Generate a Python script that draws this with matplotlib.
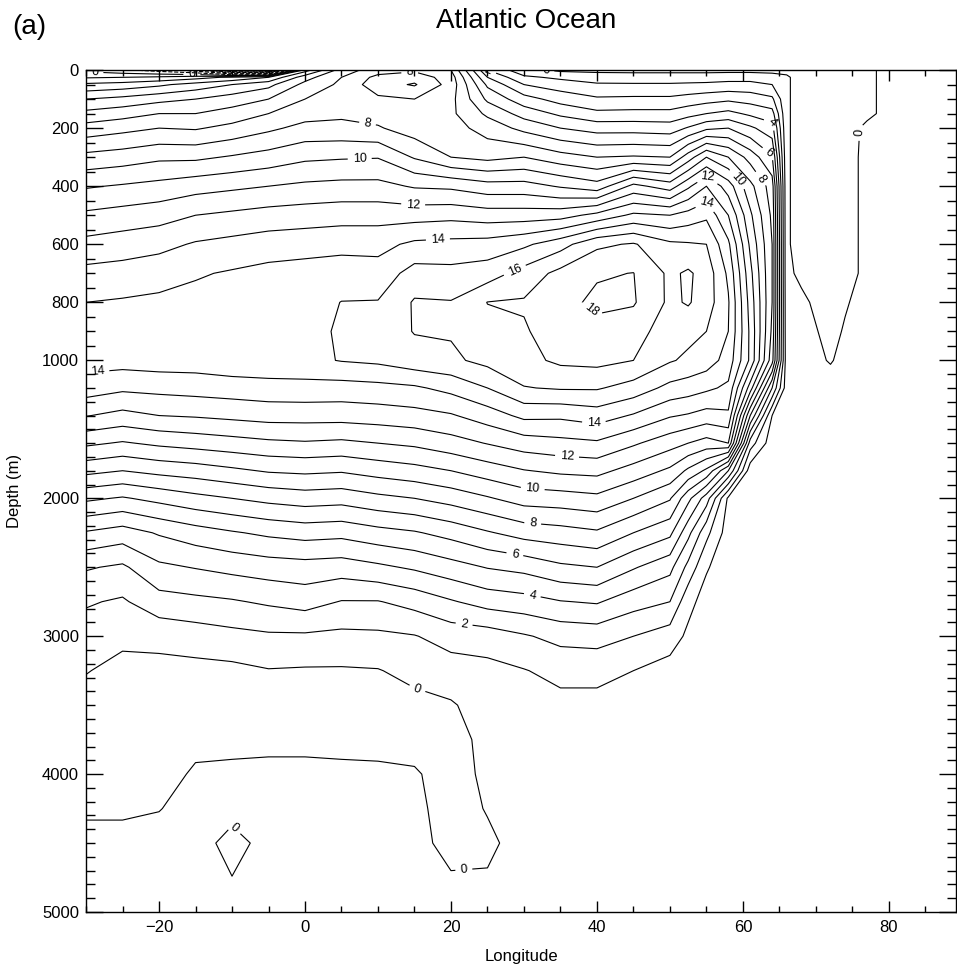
import numpy as np
import matplotlib.pyplot as plt
from matplotlib.ticker import FixedLocator, MultipleLocator

plt.rcParams['font.family'] = ['Liberation Sans', 'DejaVu Sans']

# grid of the overturning field (Sv)
lon = [-30, -25, -20, -15, -10, -5, 0, 5, 10, 15, 20, 25, 30, 35, 40, 45, 50,
       52.5, 55, 58, 61, 64, 66, 68, 72, 74, 77, 80, 90]
depth = [0, 25, 50, 100, 150, 200, 300, 400, 500, 600, 700, 800, 900, 1000,
         1200, 1400, 1600, 1800, 2000, 2250, 2500, 2750, 3000, 3250, 3500,
         3750, 4000, 4250, 4500, 4800]

# one profile per longitude, surface to bottom
psi_cols = [
    [-0.3, 0.9, 2.2, 4.0, 5.3, 6.4, 8.3, 9.9, 11.2, 12.3, 13.3, 14.0, 14.4, 14.4, 13.5, 12.05, 10.2, 8.3, 6.2, 3.9, 2.1, 1.1, 0.55, 0.05, -0.4, -0.5, -0.35, -0.1, 0.2, 0.3],
    [-0.8, 1.0, 2.4, 4.3, 5.6, 6.7, 8.5, 10.1, 11.4, 12.5, 13.4, 14.1, 14.4, 14.4, 13.2, 11.7, 9.9, 8.0, 5.9, 3.55, 1.83, 0.87, 0.23, -0.3, -0.45, -0.5, -0.35, -0.1, 0.2, 0.3],
    [-1.5, 1.2, 2.8, 4.7, 6.0, 7.0, 8.8, 10.3, 11.6, 12.7, 13.6, 14.2, 14.5, 14.5, 13.3, 12.0, 10.2, 8.3, 6.3, 4.1, 2.8, 1.6, 0.3, -0.3, -0.45, -0.5, -0.3, -0.02, 0.2, 0.3],
    [-2.6, 1.6, 3.4, 5.0, 6.0, 6.9, 8.8, 10.6, 12.0, 13.1, 13.9, 14.3, 14.5, 14.5, 13.4, 12.1, 10.4, 8.5, 6.7, 4.55, 3.05, 1.75, 0.5, -0.3, -0.45, -0.2, 0.1, 0.2, 0.25, 0.3],
    [-7.0, 2.2, 4.0, 5.5, 6.4, 7.3, 9.1, 10.8, 12.2, 13.3, 14.1, 14.5, 14.7, 14.7, 13.5, 12.25, 10.6, 8.8, 7.0, 4.9, 3.3, 1.9, 0.7, -0.25, -0.4, -0.2, 0.15, 0.2, -0.2, 0.05],
    [-8.0, 3.0, 4.7, 6.0, 7.0, 7.8, 9.4, 11.0, 12.4, 13.5, 14.3, 14.6, 14.75, 14.75, 13.6, 12.4, 10.8, 9.1, 7.3, 5.2, 3.5, 2.15, 0.85, -0.05, -0.35, -0.15, 0.15, 0.2, 0.2, 0.25],
    [3.5, 5.6, 6.3, 7.0, 7.6, 8.3, 9.8, 11.2, 12.5, 13.6, 14.4, 14.6, 14.75, 14.75, 13.65, 12.4, 10.9, 9.2, 7.5, 5.4, 3.6, 2.4, 0.85, -0.1, -0.4, -0.15, 0.15, 0.2, 0.2, 0.25],
    [6.5, 7.0, 7.2, 7.4, 7.8, 8.3, 9.9, 11.3, 12.6, 13.7, 14.5, 15.02, 15.1, 15.05, 13.6, 12.4, 10.8, 9.1, 7.4, 5.3, 3.5, 1.95, 0.75, -0.1, -0.4, -0.2, 0.15, 0.2, 0.2, 0.25],
    [7.5, 8.3, 8.6, 7.8, 7.6, 8.1, 9.95, 11.3, 12.6, 13.7, 14.4, 15.05, 15.4, 15.2, 13.7, 12.5, 11.0, 9.4, 7.75, 5.65, 3.8, 1.95, 0.8, -0.05, -0.4, -0.2, 0.12, 0.2, 0.2, 0.25],
    [7.8, 8.6, 9.1, 8.0, 7.4, 7.5, 8.9, 10.9, 12.6, 14.2, 15.4, 16.1, 16.05, 15.6, 13.85, 12.65, 11.2, 9.65, 8.0, 5.9, 4.15, 2.35, 0.95, 0.3, -0.3, -0.35, 0.1, 0.2, 0.2, 0.25],
    [7.0, 7.5, 7.6, 7.3, 7.2, 7.4, 8.0, 10.8, 12.7, 14.3, 15.3, 16.05, 16.1, 15.8, 14.3, 12.9, 11.6, 10.0, 8.4, 6.35, 4.6, 2.9, 1.4, 0.55, -0.1, -0.4, -0.4, -0.35, -0.2, 0.1],
    [2.0, 3.0, 3.8, 4.8, 5.8, 6.6, 7.7, 10.4, 12.5, 14.4, 15.5, 17.02, 16.7, 16.3, 15.0, 13.5, 12.05, 10.5, 8.9, 6.9, 5.05, 3.4, 1.5, 0.7, 0.45, 0.3, 0.2, 0.05, -0.15, 0.1],
    [0.3, 1.2, 2.0, 3.4, 4.6, 5.7, 8.0, 10.4, 12.5, 14.8, 16.4, 17.1, 16.9, 16.7, 15.95, 14.25, 12.5, 10.95, 9.45, 7.4, 5.3, 3.6, 1.9, 0.95, 0.6, 0.45, 0.4, 0.35, 0.3, 0.3],
    [-0.2, 0.8, 1.5, 2.6, 3.8, 5.0, 7.4, 9.9, 12.6, 15.6, 17.3, 17.7, 17.5, 17.2, 16.1, 14.2, 12.7, 11.2, 9.55, 7.6, 5.8, 3.95, 2.3, 1.3, 0.7, 0.5, 0.4, 0.4, 0.4, 0.4],
    [-0.3, 0.6, 1.1, 2.15, 3.25, 4.6, 7.0, 9.4, 13.3, 16.8, 17.9, 18.2, 17.7, 17.3, 16.1, 14.5, 12.85, 11.3, 9.75, 7.85, 6.0, 4.1, 2.4, 1.3, 0.7, 0.5, 0.4, 0.4, 0.4, 0.4],
    [-0.3, 0.5, 1.1, 2.2, 3.3, 4.6, 7.1, 11.3, 14.2, 17.1, 18.02, 18.1, 17.4, 17.0, 15.6, 13.9, 12.15, 10.6, 9.0, 7.0, 5.1, 3.4, 2.0, 1.0, 0.6, 0.45, 0.4, 0.4, 0.4, 0.4],
    [-0.3, 0.5, 1.1, 2.2, 3.3, 4.5, 7.0, 10.5, 14.0, 16.2, 16.8, 16.8, 16.5, 16.1, 14.7, 13.1, 11.4, 9.8, 8.1, 6.25, 4.3, 3.0, 1.5, 0.6, 0.45, 0.4, 0.4, 0.4, 0.4, 0.4],
    [-0.3, 0.5, 1.15, 2.4, 3.65, 5.1, 8.5, 11.8, 14.4, 16.1, 17.15, 17.1, 16.3, 15.8, 14.5, 12.9, 11.0, 8.8, 6.3, 4.3, 2.7, 1.3, 0.8, 0.5, 0.42, 0.4, 0.4, 0.4, 0.4, 0.4],
    [-0.3, 0.5, 1.2, 2.6, 4.0, 5.8, 10.0, 13.0, 14.8, 16.0, 16.6, 16.5, 16.0, 15.5, 14.2, 12.6, 10.6, 7.8, 4.5, 2.3, 1.1, 0.6, 0.4, 0.4, 0.4, 0.4, 0.4, 0.4, 0.4, 0.4],
    [-0.3, 0.6, 1.3, 2.8, 4.3, 6.0, 9.0, 11.5, 13.0, 14.2, 14.8, 15.1, 15.0, 14.6, 13.8, 12.8, 11.0, 5.0, 0.8, 0.5, 0.4, 0.4, 0.4, 0.4, 0.4, 0.4, 0.4, 0.4, 0.4, 0.4],
    [-0.3, 0.6, 1.3, 2.6, 3.8, 5.2, 7.6, 9.3, 10.2, 10.8, 11.3, 11.6, 11.8, 11.8, 9.5, 6.0, 2.5, 0.4, 0.4, 0.4, 0.4, 0.4, 0.4, 0.4, 0.4, 0.4, 0.4, 0.4, 0.4, 0.4],
    [-0.3, 0.4, 1.0, 2.2, 3.4, 4.4, 6.1, 7.5, 7.8, 8.0, 8.0, 8.0, 7.8, 7.4, 4.0, 1.0, 0.4, 0.4, 0.4, 0.4, 0.4, 0.4, 0.4, 0.4, 0.4, 0.4, 0.4, 0.4, 0.4, 0.4],
    [-0.2, 0.1, 0.1, 0.1, 0.1, 0.1, 0.1, 0.1, 0.1, 0.1, 0.1, 0.15, 0.2, 0.3, 0.4, 0.4, 0.4, 0.4, 0.4, 0.4, 0.4, 0.4, 0.4, 0.4, 0.4, 0.4, 0.4, 0.4, 0.4, 0.4],
    [-0.3, -0.3, -0.3, -0.3, -0.3, -0.3, -0.3, -0.3, -0.3, -0.3, -0.1, 0.1, 0.2, 0.3, 0.4, 0.4, 0.4, 0.4, 0.4, 0.4, 0.4, 0.4, 0.4, 0.4, 0.4, 0.4, 0.4, 0.4, 0.4, 0.4],
    [-0.3, -0.3, -0.3, -0.3, -0.3, -0.3, -0.3, -0.3, -0.3, -0.3, -0.3, -0.25, -0.15, -0.05, 0.3, 0.4, 0.4, 0.4, 0.4, 0.4, 0.4, 0.4, 0.4, 0.4, 0.4, 0.4, 0.4, 0.4, 0.4, 0.4],
    [-0.3, -0.3, -0.3, -0.3, -0.3, -0.3, -0.3, -0.3, -0.3, -0.3, -0.3, -0.05, 0.05, 0.2, 0.3, 0.4, 0.4, 0.4, 0.4, 0.4, 0.4, 0.4, 0.4, 0.4, 0.4, 0.4, 0.4, 0.4, 0.4, 0.4],
    [-0.15, -0.15, -0.15, -0.15, -0.15, 0.15, 0.2, 0.2, 0.2, 0.2, 0.2, 0.2, 0.2, 0.2, 0.3, 0.4, 0.4, 0.4, 0.4, 0.4, 0.4, 0.4, 0.4, 0.4, 0.4, 0.4, 0.4, 0.4, 0.4, 0.4],
    [0.2, 0.2, 0.2, 0.2, 0.2, 0.2, 0.2, 0.2, 0.2, 0.2, 0.2, 0.2, 0.2, 0.2, 0.3, 0.4, 0.4, 0.4, 0.4, 0.4, 0.4, 0.4, 0.4, 0.4, 0.4, 0.4, 0.4, 0.4, 0.4, 0.4],
    [0.2, 0.2, 0.2, 0.2, 0.2, 0.2, 0.2, 0.2, 0.2, 0.2, 0.2, 0.2, 0.2, 0.2, 0.3, 0.4, 0.4, 0.4, 0.4, 0.4, 0.4, 0.4, 0.4, 0.4, 0.4, 0.4, 0.4, 0.4, 0.4, 0.4],
]
psi = np.array(psi_cols).T

even_levels = np.arange(-8, 19, 2)
odd_levels = np.arange(-7, 18, 2)

# where the contour labels sit (lon, depth)
label_pos = [(-28.8, 17), (-15.5, 12), (14.4, 24), (25.0, 7), (31.8, 14),
             (8.6, 179), (7.5, 307), (14.8, 469), (18.2, 579), (28.2, 659),
             (40.0, 803), (-28.4, 1108), (39.6, 1457), (35.9, 1696),
             (31.2, 1927), (31.2, 2181), (28.8, 2391), (31.2, 2688),
             (21.8, 2913), (15.5, 3362), (21.9, 4790), (-8.8, 4340),
             (76.3, 215), (64.0, 179), (63.7, 283), (62.7, 369), (59.6, 369),
             (55.5, 355), (54.5, 421)]


# depth axis: top 1000 m stretched
def fwd(d):
    d = np.asarray(d, dtype=float)
    return np.where(d <= 1000, d, 1000 + (d - 1000) * 0.475)


def inv(u):
    u = np.asarray(u, dtype=float)
    return np.where(u <= 1000, u, 1000 + (u - 1000) / 0.475)


fig = plt.figure(figsize=(9.57, 9.69), dpi=100)
ax = fig.add_axes([0.0899, 0.0588, 0.9091, 0.8689])
ax.set_yscale('function', functions=(fwd, inv))
ax.set_xlim(-30, 89.2)
ax.set_ylim(5000, 0)

ax.contour(lon, depth, psi, levels=odd_levels, colors='k', linewidths=0.8)
cs = ax.contour(lon, depth, psi, levels=even_levels, colors='k', linewidths=0.8)
ax.clabel(cs, manual=label_pos, inline=True, fontsize=9, fmt='%d')

ax.xaxis.set_major_locator(FixedLocator([-20, 0, 20, 40, 60, 80]))
ax.xaxis.set_minor_locator(MultipleLocator(5))
ax.yaxis.set_major_locator(FixedLocator([0, 200, 400, 600, 800, 1000, 2000, 3000, 4000, 5000]))
minor_y = [d for d in range(50, 1000, 50) if d % 200] + [d for d in range(1100, 5000, 100) if d % 1000]
ax.yaxis.set_minor_locator(FixedLocator(minor_y))
ax.tick_params(which='both', direction='in', top=True, right=True, labelsize=12, width=1)
ax.tick_params(axis='x', which='major', length=8, pad=6)
ax.tick_params(axis='x', which='minor', length=4)
ax.tick_params(axis='y', which='major', length=12, pad=5)
ax.tick_params(axis='y', which='minor', length=6.5)
for s in ax.spines.values():
    s.set_linewidth(1)

ax.set_xlabel('Longitude', fontsize=12, labelpad=10)
ax.set_ylabel('Depth (m)', fontsize=12)
ax.yaxis.set_label_coords(-0.0736, 0.5)

fig.text(0.550, 0.978, 'Atlantic Ocean', fontsize=20, ha='center', va='center')
fig.text(0.031, 0.972, '(a)', fontsize=20, ha='center', va='center')

fig.savefig('out.png', dpi=100)
